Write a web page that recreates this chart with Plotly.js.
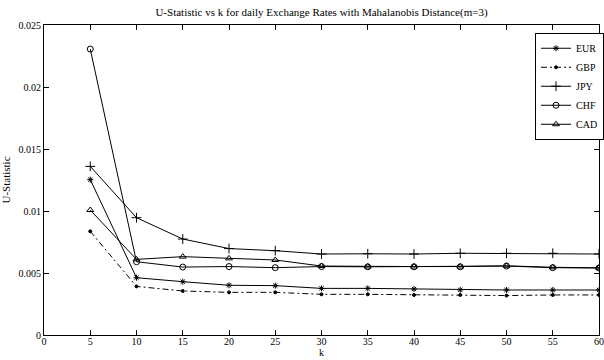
<!DOCTYPE html>
<html>
<head>
<meta charset="utf-8">
<script src="https://cdn.plot.ly/plotly-3.0.1.min.js"></script>
<style>html,body{margin:0;padding:0;background:#fff;}#chart{width:604px;height:360px;}</style>
</head>
<body>
<div id="chart"></div>
<script>
var k = [5, 10, 15, 20, 25, 30, 35, 40, 45, 50, 55, 60];
var EUR = [0.01253, 0.00462, 0.00430, 0.00401, 0.00398, 0.00376, 0.00376, 0.00371, 0.00364, 0.00363, 0.00363, 0.00363];
var GBP = [0.00836, 0.00392, 0.00355, 0.00344, 0.00344, 0.00328, 0.00328, 0.00323, 0.00323, 0.00318, 0.00323, 0.00323];
var JPY = [0.01360, 0.00946, 0.00774, 0.00697, 0.00680, 0.00653, 0.00655, 0.00653, 0.00659, 0.00659, 0.00659, 0.00653];
var CHF = [0.02306, 0.00591, 0.00548, 0.00552, 0.00543, 0.00552, 0.00550, 0.00550, 0.00550, 0.00556, 0.00543, 0.00540];
var CAD = [0.01008, 0.00610, 0.00632, 0.00618, 0.00605, 0.00556, 0.00552, 0.00552, 0.00552, 0.00558, 0.00546, 0.00542];
var xTicks = [0, 5, 10, 15, 20, 25, 30, 35, 40, 45, 50, 55, 60];
var yTicks = [0, 0.005, 0.01, 0.015, 0.02, 0.025];
var yTickText = ['0', '0.005', '0.01', '0.015', '0.02', '0.025'];

function f(sz) { return {family: 'Liberation Serif', size: sz, color: '#000'}; }
function tr(name, y, sym, dash, size) {
  return {
    x: k, y: y, name: name, type: 'scatter', mode: 'lines+markers',
    line: {color: '#000', width: 1, dash: dash},
    marker: {symbol: sym, size: size, color: '#000', line: {color: '#000', width: 1}}
  };
}
var data = [
  tr('EUR', EUR, 'asterisk-open', 'solid', 5),
  tr('GBP', GBP, 'circle', '6px,3px,2px,3px', 3),
  tr('JPY', JPY, 'cross-thin-open', 'solid', 7),
  tr('CHF', CHF, 'circle-open', 'solid', 6),
  tr('CAD', CAD, 'triangle-up-open', 'solid', 6)
];
var layout = {
  width: 604, height: 360,
  margin: {l: 44, r: 0, t: 25, b: 25, pad: 0},
  paper_bgcolor: '#fff', plot_bgcolor: '#fff',
  font: f(11),
  showlegend: true,
  title: {text: 'U-Statistic vs k for daily Exchange Rates with Mahalanobis Distance(m=3)',
          font: f(11), x: 0.5, xref: 'paper', y: 0.965, yref: 'container', yanchor: 'middle'},
  xaxis: {
    range: [0, 60], tickvals: xTicks, ticktext: xTicks.map(String),
    ticks: 'inside', ticklen: 5, tickcolor: '#000', tickwidth: 1,
    showline: true, linecolor: '#000', linewidth: 1, mirror: 'ticks',
    showgrid: false, zeroline: false,
    ticklabelstandoff: -3,
    title: {text: 'k', font: f(10), standoff: 0},
    tickfont: f(10)
  },
  yaxis: {
    range: [0, 0.025], tickvals: yTicks, ticktext: yTickText,
    ticks: 'inside', ticklen: 5, tickcolor: '#000', tickwidth: 1,
    showline: true, linecolor: '#000', linewidth: 1, mirror: 'ticks',
    showgrid: false, zeroline: false,
    title: {text: 'U-Statistic', font: f(11), standoff: 6},
    tickfont: f(10)
  },
  legend: {
    x: 0.885, xanchor: 'left', y: 0.975, yanchor: 'top',
    bgcolor: '#fff', bordercolor: '#000', borderwidth: 1,
    font: f(10), tracegroupgap: 0, itemwidth: 30
  }
};
Plotly.newPlot('chart', data, layout, {displayModeBar: false, staticPlot: true});
</script>
</body>
</html>
